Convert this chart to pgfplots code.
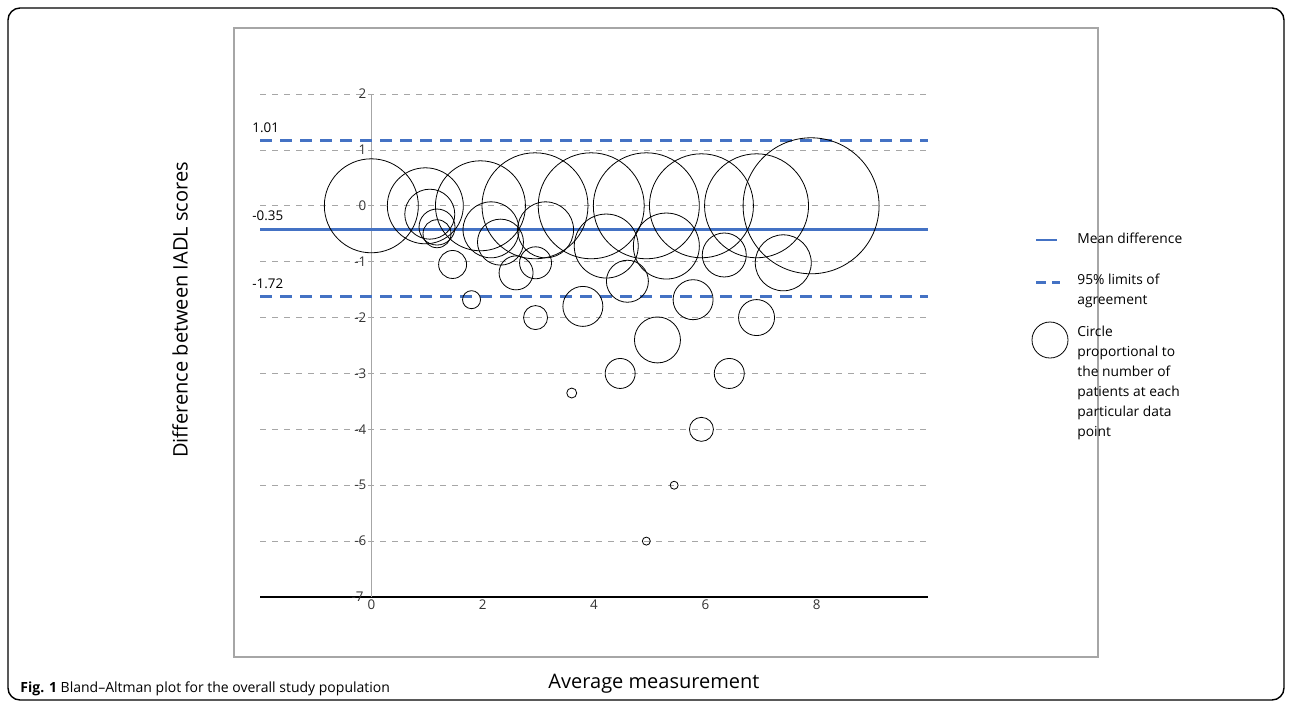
\documentclass[border=0pt]{standalone}
\usepackage{pgfplots}
\pgfplotsset{compat=1.18}
\usepackage{pgfplotstable}
\usepackage{fontspec}
\setmainfont{Open Sans}
\definecolor{bl}{RGB}{68,114,196}
\pgfplotstableread{
x y r
0 0 23.5
0.97 0 19
1.05 -0.15 12.5
1.18 -0.38 9
1.18 -0.5 7
1.96 0 22.5
2.15 -0.43 14
2.32 -0.65 11.5
1.46 -1.05 7
2.6 -1.2 8.5
1.8 -1.68 4.5
2.94 0 26.5
3.13 -0.43 14
2.95 -1.02 8
3.95 0 26.5
4.22 -0.72 16
4.6 -1.35 10.5
3.8 -1.8 10
2.95 -2.0 6
3.6 -3.35 2.5
4.47 -3.0 7.5
4.94 0 26.5
5.3 -0.72 16.5
5.14 -2.4 11.5
5.78 -1.68 10
5.93 0 26
6.34 -0.88 11
6.92 0 26
6.92 -2.0 9
6.43 -3.0 7.5
5.93 -4.0 6
5.44 -5.0 2
4.94 -6.0 2
7.9 0 34
7.4 -1.02 14
}\circles
\begin{document}
\begin{tikzpicture}[x=0.5pt,y=-0.5pt]
\path[use as bounding box] (0,0) rectangle (1292,708);
\draw[black, line width=0.7pt, rounded corners=6pt] (8,8) rectangle (1284,700);
\draw[gray!70, line width=0.6pt] (234,28) rectangle (1098,657);
\begin{axis}[at={(130pt,-298.5pt)}, anchor=south west,
  scale only axis, width=334pt, height=251.5pt,
  xmin=-2, xmax=10, ymin=-7, ymax=2,
  axis y line=middle, axis x line=bottom,
  y axis line style={gray!70, line width=0.5pt, -},
  x axis line style={black, line width=0.6pt, -},
  xtick={0,2,4,6,8}, ytick={-7,-6,...,2},
  major tick length=0pt,
  ymajorgrids, grid style={gray!70, dashed, line width=0.4pt},
  tick label style={font=\fontsize{6.7}{8}\selectfont, text=black!80},
  /pgf/number format/assume math mode=true,
  xticklabel style={yshift=2pt},
  yticklabel style={xshift=1pt},
  clip=false]
\addplot[scatter, only marks, mark=o, black, line width=0.4pt,
  visualization depends on={\thisrow{r}\as\rr},
  scatter/use mapped color={draw=black},
  scatter/@pre marker code/.append style={/tikz/mark size=\rr}]
  table[x=x,y=y] {\circles};
\addplot[bl, line width=1.5pt, dash pattern=on 6pt off 4pt] coordinates {(-2,1.16) (10,1.16)};
\addplot[bl, line width=1.3pt] coordinates {(-2,-0.42) (10,-0.42)};
\addplot[bl, line width=1.5pt, dash pattern=on 6pt off 4pt] coordinates {(-2,-1.63) (10,-1.63)};
\end{axis}
\begin{scope}[every node/.style={font=\fontsize{6.7}{8}\selectfont, anchor=west, inner sep=0pt}]
\node at (252,128) {1.01};
\node at (252,216) {-0.35};
\node at (252,284) {-1.72};
\node[anchor=east, text=black!80] at (364,597) {-7};
\end{scope}
\draw[bl, line width=1.3pt] (1036,240) -- (1057,240);
\draw[bl, line width=1.5pt, dash pattern=on 5pt off 3pt] (1036,282) -- (1060,282);
\draw[black, line width=0.4pt] (1050,340) circle (9pt);
\begin{scope}[every node/.style={font=\fontsize{6.9}{10}\selectfont, anchor=north west, inner sep=0pt, align=left}]
\node at (1077,233) {Mean difference};
\node at (1077,274) {95\% limits of\\agreement};
\node at (1077,326) {Circle\\proportional to\\the number of\\patients at each\\particular data\\point};
\end{scope}
\node[rotate=90, font=\fontsize{10}{12}\selectfont] at (180,310) {Difference between IADL scores};
\node[font=\fontsize{10}{12}\selectfont] at (654,684) {Average measurement};
\node[anchor=west, font=\fontsize{7}{8}\selectfont, inner sep=0pt] at (20,689) {\textbf{Fig. 1} Bland–Altman plot for the overall study population};
\end{tikzpicture}
\end{document}
